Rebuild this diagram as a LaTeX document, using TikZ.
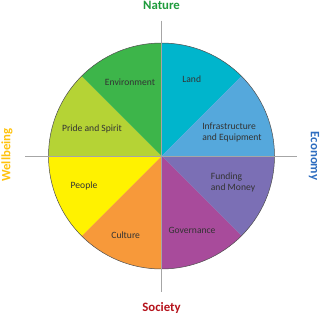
\documentclass[tikz,border=0pt]{standalone}
\usepackage{fontspec}
\setmainfont{Carlito}
\definecolor{cLand}{HTML}{00B5CC}
\definecolor{cInfra}{HTML}{55A8DC}
\definecolor{cFund}{HTML}{7B6FB5}
\definecolor{cGov}{HTML}{A84B9B}
\definecolor{cCult}{HTML}{F7993A}
\definecolor{cPeople}{HTML}{FFF200}
\definecolor{cPride}{HTML}{B5D335}
\definecolor{cEnv}{HTML}{3DB54A}
\definecolor{cNature}{HTML}{1E9B3C}
\definecolor{cEcon}{HTML}{2E6DBF}
\definecolor{cSoc}{HTML}{B5121B}
\definecolor{cWell}{HTML}{FFC20E}
\begin{document}
\begin{tikzpicture}[x=1pt,y=1pt,
  slicelbl/.style={font=\fontsize{9.6}{11}\selectfont, text=black!80, align=left, inner sep=0pt},
  axislbl/.style={font=\fontsize{12.8}{14}\selectfont\bfseries, inner sep=0pt},
  axisline/.style={draw=gray!70, line width=0.6pt}]
\useasboundingbox (0,0) rectangle (320,316);
\coordinate (C) at (161.5,160);
\def\R{113}
\foreach \a/\col in {45/cLand,0/cInfra,-45/cFund,-90/cGov,225/cCult,180/cPeople,135/cPride,90/cEnv}{
  \fill[\col] (C) -- ++(\a:\R) arc[start angle=\a, end angle=\a+45, radius=\R] -- cycle;
}
\draw[gray!60!black, line width=0.5pt] (C) circle[radius=\R];
\coordinate (T) at (161.5,295.3);
\coordinate (B) at (161.5,24.3);
\coordinate (L) at (25,160);
\coordinate (Rt) at (296.7,160);
\draw[axisline] (T) -- (B);
\draw[axisline] (L) -- (Rt);
\node[slicelbl] (land) at (191.7,237) {Land};
\node[slicelbl] (infra) at (232,184) {Infrastructure\\and Equipment};
\node[slicelbl] (fund) at (233,134) {Funding\\and Money};
\node[slicelbl] (gov) at (192,86) {Governance};
\node[slicelbl] (cult) at (125.7,81) {Culture};
\node[slicelbl] (people) at (84,130) {People};
\node[slicelbl] (pride) at (92,187) {Pride and Spirit};
\node[slicelbl] (env) at (130,234) {Environment};
\node[axislbl, text=cNature] (nat) at (161.5,311) {Nature};
\node[axislbl, text=cSoc] (soc) at (161.5,8) {Society};
\node[axislbl, text=cWell, rotate=90] (well) at (7,161) {Wellbeing};
\node[axislbl, text=cEcon, rotate=-90] (econ) at (314,160) {Economy};
\end{tikzpicture}
\end{document}
